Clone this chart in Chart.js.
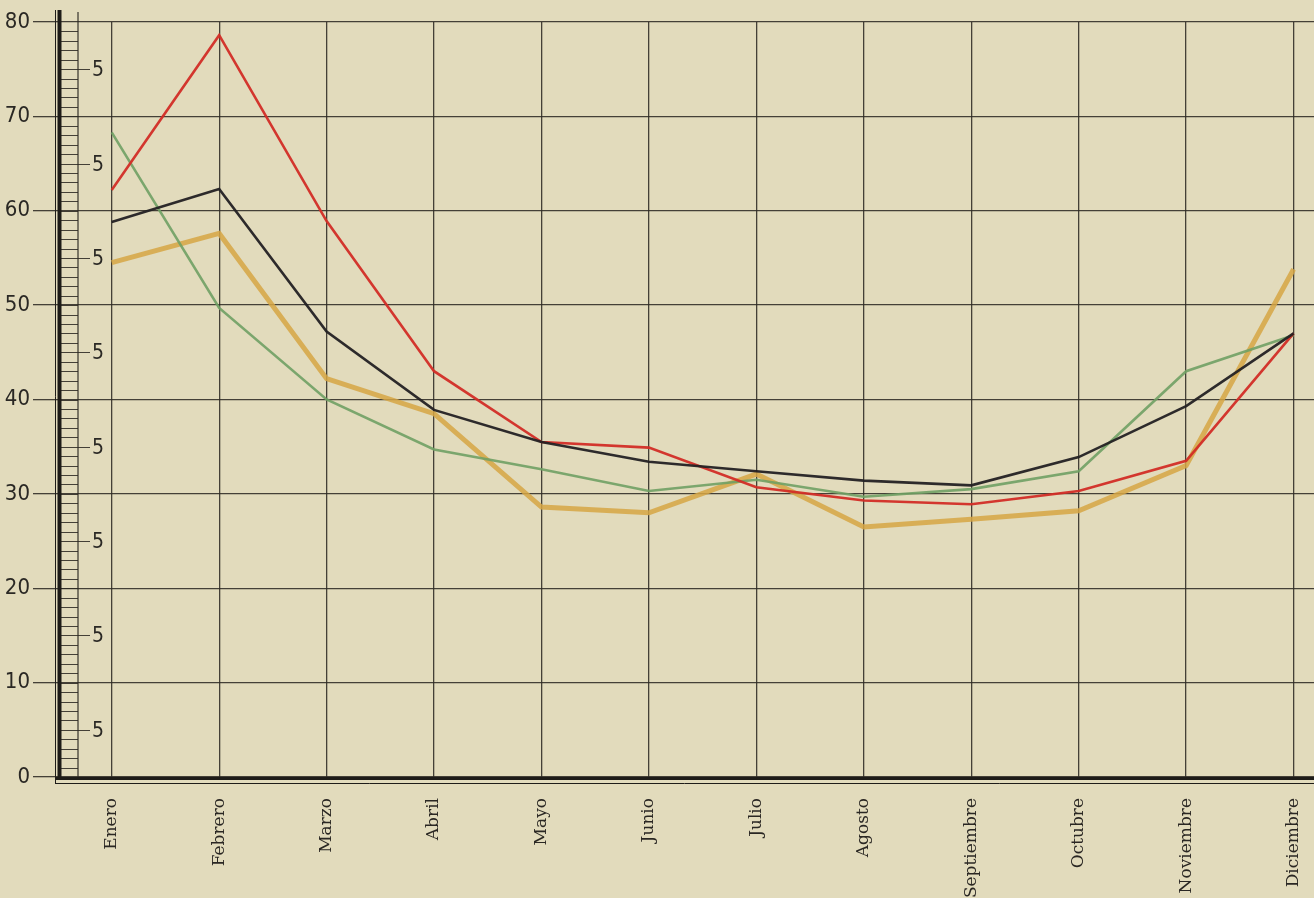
<!DOCTYPE html>
<html><head><meta charset="utf-8">
<script src="https://cdn.jsdelivr.net/npm/chart.js@4.4.1/dist/chart.umd.min.js"></script>
<style>html,body{margin:0;padding:0;background:#e2dbbc;overflow:hidden}#wrap{width:1314px;height:898px;position:relative}</style>
</head><body><div id="wrap"><canvas id="c"></canvas></div>
<script>
const months = ['Enero','Febrero','Marzo','Abril','Mayo','Junio','Julio','Agosto','Septiembre','Octubre','Noviembre','Diciembre'];
const yTicks = [0,10,20,30,40,50,60,70,80];
const minorTicks = [5,15,25,35,45,55,65,75];
const minorLabel = '5';
const serieRoja     = [62.2,78.6,58.9,43.0,35.5,34.9,30.7,29.3,28.9,30.3,33.5,47.0];
const serieNegra    = [58.8,62.3,47.2,38.9,35.5,33.4,32.4,31.4,30.9,33.9,39.3,47.0];
const serieVerde    = [68.3,49.7,40.0,34.7,32.6,30.3,31.5,29.7,30.5,32.4,43.0,46.8];
const serieAmarilla = [54.5,57.6,42.2,38.5,28.6,28.0,32.1,26.5,27.3,28.2,33.0,53.8];

const ink = 'rgba(45,42,36,0.88)';
const paperColor = '#e2dbbc';
const narrow = '"Liberation Sans Narrow", "DejaVu Sans Condensed", sans-serif';

const paper = {
  id: 'paper',
  beforeDraw(chart) {
    const {ctx, width, height} = chart;
    ctx.save(); ctx.fillStyle = paperColor; ctx.fillRect(0, 0, width, height); ctx.restore();
  }
};
function seg(ctx, x1, y1, x2, y2) { ctx.beginPath(); ctx.moveTo(x1, y1); ctx.lineTo(x2, y2); ctx.stroke(); }
const ladder = {
  id: 'ladder',
  afterDraw(chart) {
    const y = chart.scales.y, a = chart.chartArea, ctx = chart.ctx;
    ctx.save();
    ctx.strokeStyle = ink;
    ctx.lineWidth = 1;
    for (let v = 1; v < 80; v++) {
      const py = Math.round(y.getPixelForValue(v)) + 0.5;
      seg(ctx, 61, py, 78, py);
    }
    ctx.lineWidth = 1.3;
    seg(ctx, 78, a.top - 10, 78, a.bottom);
    ctx.fillStyle = '#2a2824';
    ctx.font = '21px ' + narrow;
    ctx.textAlign = 'left'; ctx.textBaseline = 'middle';
    for (const v of minorTicks) {
      const py = Math.round(y.getPixelForValue(v)) + 0.5;
      ctx.lineWidth = 1; seg(ctx, 78, py, 90, py);
      ctx.fillText(minorLabel, 92, py + 1);
    }
    ctx.strokeStyle = '#1e1c18';
    ctx.lineWidth = 4; seg(ctx, 59.5, a.top - 12, 59.5, a.bottom + 2);
    ctx.lineWidth = 1; seg(ctx, 55.5, a.top - 12, 55.5, a.bottom + 6.5);
    ctx.lineWidth = 3; seg(ctx, 55, a.bottom + 1.5, a.right, a.bottom + 1.5);
    ctx.lineWidth = 1; seg(ctx, 55, a.bottom + 6.5, a.right, a.bottom + 6.5);
    ctx.restore();
  }
};

new Chart(document.getElementById('c'), {
  type: 'line',
  data: {
    datasets: [
      {label: 'Amarilla', data: serieAmarilla.map((v, i) => ({x: i, y: v})), borderColor: 'rgba(214,166,68,0.85)', borderWidth: 5, order: 4},
      {label: 'Verde', data: serieVerde.map((v, i) => ({x: i, y: v})), borderColor: 'rgba(112,160,100,0.9)', borderWidth: 2.6, order: 3},
      {label: 'Roja', data: serieRoja.map((v, i) => ({x: i, y: v})), borderColor: 'rgba(210,45,38,0.95)', borderWidth: 2.6, order: 2},
      {label: 'Negra', data: serieNegra.map((v, i) => ({x: i, y: v})), borderColor: 'rgba(35,33,35,0.95)', borderWidth: 2.6, order: 1}
    ]
  },
  options: {
    responsive: true, maintainAspectRatio: false, animation: false,
    layout: {padding: {top: 22, right: 0, bottom: 0, left: 0}},
    elements: {point: {radius: 0}, line: {tension: 0}},
    plugins: {legend: {display: false}, tooltip: {enabled: false}},
    scales: {
      x: {
        type: 'linear', min: -0.5, max: 11.19,
        afterBuildTicks: s => { s.ticks = months.map((_, i) => ({value: i})); },
        afterFit: s => { s.height = 121; s.paddingLeft = 0; s.paddingRight = 0; },
        border: {display: false},
        grid: {color: ink, lineWidth: 1.3, drawTicks: false},
        ticks: {
          autoSkip: false, minRotation: 90, maxRotation: 90, padding: 21,
          color: '#2a2723', font: {family: '"DejaVu Serif", serif', size: 17},
          callback: v => months[v] ?? ''
        }
      },
      y: {
        min: 0, max: 80,
        afterBuildTicks: s => { s.ticks = yTicks.map(v => ({value: v})); },
        afterFit: s => { s.width = 58; },
        border: {display: false},
        grid: {color: ink, lineWidth: 1.3, tickLength: 25},
        ticks: {padding: 3, color: '#2a2824', font: {family: narrow, size: 22}}
      }
    }
  },
  plugins: [paper, ladder]
});
</script></body></html>
